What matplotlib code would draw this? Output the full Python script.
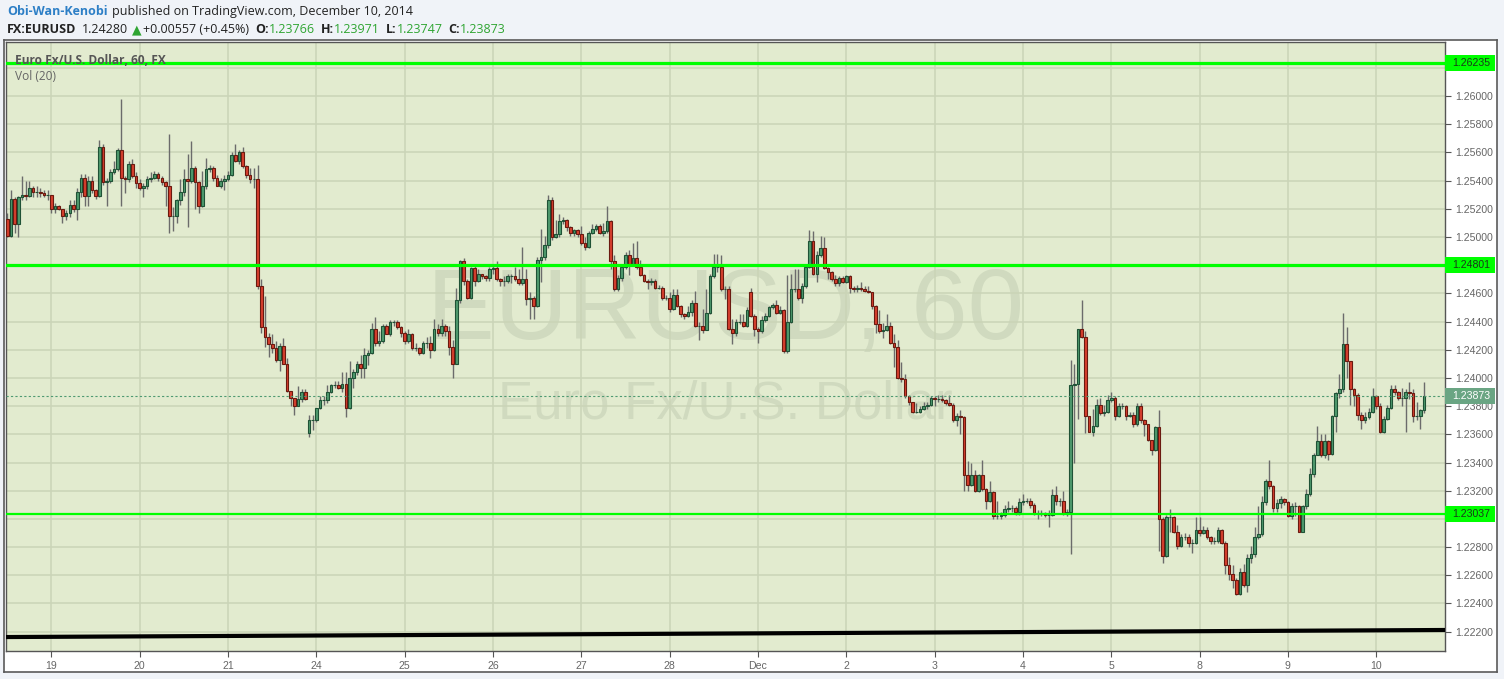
import numpy as np
import matplotlib
matplotlib.use('Agg')
import matplotlib.pyplot as plt
from matplotlib.patches import Rectangle
from matplotlib.transforms import IdentityTransform
from matplotlib.ticker import MultipleLocator, FuncFormatter

# hourly EURUSD candles (open = previous close unless listed in gap_opens)
first_open = 1.2513
gap_opens = {82: 1.2361, 202: 1.2461}

closes = [
    1.2501, 1.2527, 1.2509, 1.2528, 1.2530, 1.2529, 1.2535, 1.2532, 1.2532, 1.2531,
    1.2530, 1.2530, 1.2520, 1.2522, 1.2520, 1.2515, 1.2517, 1.2523, 1.2520, 1.2532,
    1.2542, 1.2529, 1.2540, 1.2533, 1.2529, 1.2564, 1.2539, 1.2540, 1.2546, 1.2548,
    1.2562, 1.2542, 1.2541, 1.2552, 1.2543, 1.2538, 1.2535, 1.2536, 1.2541, 1.2542,
    1.2545, 1.2542, 1.2539, 1.2536, 1.2515, 1.2515, 1.2526, 1.2532, 1.2541, 1.2540,
    1.2549, 1.2539, 1.2522, 1.2536, 1.2548, 1.2549, 1.2542, 1.2536, 1.2540, 1.2541,
    1.2544, 1.2558, 1.2554, 1.2560, 1.2550, 1.2544, 1.2541, 1.2541, 1.2465, 1.2436,
    1.2429, 1.2424, 1.2421, 1.2413, 1.2423, 1.2410, 1.2391, 1.2386, 1.2380, 1.2385,
    1.2390, 1.2385, 1.2370, 1.2370, 1.2379, 1.2384, 1.2384, 1.2390, 1.2395, 1.2395,
    1.2393, 1.2396, 1.2379, 1.2400, 1.2404, 1.2410, 1.2407, 1.2416, 1.2418, 1.2435,
    1.2425, 1.2426, 1.2437, 1.2431, 1.2440, 1.2440, 1.2436, 1.2432, 1.2426, 1.2431,
    1.2421, 1.2421, 1.2418, 1.2425, 1.2425, 1.2420, 1.2435, 1.2432, 1.2437, 1.2433,
    1.2422, 1.2410, 1.2455, 1.2483, 1.2469, 1.2457, 1.2478, 1.2469, 1.2474, 1.2472,
    1.2471, 1.2477, 1.2478, 1.2470, 1.2469, 1.2469, 1.2472, 1.2472, 1.2470, 1.2467,
    1.2470, 1.2456, 1.2457, 1.2451, 1.2484, 1.2486, 1.2494, 1.2526, 1.2500, 1.2502,
    1.2511, 1.2512, 1.2507, 1.2503, 1.2505, 1.2502, 1.2496, 1.2493, 1.2503, 1.2506,
    1.2508, 1.2503, 1.2504, 1.2511, 1.2483, 1.2463, 1.2471, 1.2479, 1.2487, 1.2481,
    1.2485, 1.2479, 1.2473, 1.2469, 1.2468, 1.2469, 1.2464, 1.2464, 1.2457, 1.2457,
    1.2449, 1.2459, 1.2451, 1.2445, 1.2444, 1.2447, 1.2453, 1.2437, 1.2437, 1.2434,
    1.2446, 1.2472, 1.2479, 1.2479, 1.2463, 1.2463, 1.2435, 1.2432, 1.2440, 1.2440,
    1.2437, 1.2448, 1.2444, 1.2435, 1.2433, 1.2441, 1.2444, 1.2450, 1.2452, 1.2446,
    1.2448, 1.2419, 1.2440, 1.2463, 1.2463, 1.2457, 1.2465, 1.2479, 1.2497, 1.2474,
    1.2487, 1.2492, 1.2478, 1.2475, 1.2470, 1.2467, 1.2471, 1.2468, 1.2472, 1.2464,
    1.2463, 1.2464, 1.2463, 1.2462, 1.2461, 1.2451, 1.2438, 1.2433, 1.2434, 1.2437,
    1.2425, 1.2422, 1.2400, 1.2399, 1.2387, 1.2383, 1.2376, 1.2376, 1.2378, 1.2380,
    1.2381, 1.2386, 1.2385, 1.2385, 1.2384, 1.2382, 1.2381, 1.2370, 1.2373, 1.2372,
    1.2331, 1.2324, 1.2331, 1.2320, 1.2331, 1.2321, 1.2313, 1.2319, 1.2302, 1.2302,
    1.2303, 1.2307, 1.2308, 1.2308, 1.2305, 1.2312, 1.2313, 1.2313, 1.2310, 1.2304,
    1.2304, 1.2304, 1.2303, 1.2303, 1.2317, 1.2313, 1.2313, 1.2304, 1.2305, 1.2395,
    1.2396, 1.2435, 1.2429, 1.2373, 1.2362, 1.2366, 1.2381, 1.2375, 1.2376, 1.2384,
    1.2386, 1.2373, 1.2380, 1.2380, 1.2373, 1.2374, 1.2367, 1.2380, 1.2370, 1.2367,
    1.2356, 1.2349, 1.2365, 1.2300, 1.2274, 1.2301, 1.2301, 1.2291, 1.2281, 1.2287,
    1.2287, 1.2283, 1.2283, 1.2292, 1.2290, 1.2292, 1.2287, 1.2284, 1.2284, 1.2292,
    1.2283, 1.2267, 1.2261, 1.2257, 1.2247, 1.2262, 1.2253, 1.2272, 1.2275, 1.2287,
    1.2289, 1.2312, 1.2327, 1.2323, 1.2308, 1.2311, 1.2314, 1.2312, 1.2302, 1.2309,
    1.2309, 1.2291, 1.2309, 1.2318, 1.2332, 1.2345, 1.2355, 1.2345, 1.2355, 1.2346,
    1.2373, 1.2389, 1.2392, 1.2424, 1.2412, 1.2392, 1.2388, 1.2374, 1.2370, 1.2372,
    1.2376, 1.2387, 1.2380, 1.2362, 1.2371, 1.2379, 1.2392, 1.2390, 1.2386, 1.2386,
    1.2390, 1.2389, 1.2373, 1.2373, 1.2377, 1.2387,
]
highs = [
    1.2517, 1.2533, 1.2528, 1.2529, 1.2543, 1.2540, 1.2540, 1.2536, 1.2536, 1.2535,
    1.2533, 1.2533, 1.2530, 1.2524, 1.2523, 1.2520, 1.2519, 1.2526, 1.2526, 1.2535,
    1.2545, 1.2545, 1.2543, 1.2543, 1.2534, 1.2569, 1.2566, 1.2542, 1.2548, 1.2554,
    1.2563, 1.2598, 1.2543, 1.2554, 1.2555, 1.2546, 1.2541, 1.2538, 1.2543, 1.2546,
    1.2547, 1.2546, 1.2543, 1.2540, 1.2573, 1.2521, 1.2527, 1.2541, 1.2548, 1.2559,
    1.2568, 1.2550, 1.2540, 1.2547, 1.2556, 1.2551, 1.2550, 1.2544, 1.2542, 1.2544,
    1.2547, 1.2560, 1.2566, 1.2562, 1.2564, 1.2551, 1.2549, 1.2549, 1.2551, 1.2470,
    1.2458, 1.2432, 1.2431, 1.2426, 1.2425, 1.2428, 1.2414, 1.2391, 1.2386, 1.2394,
    1.2392, 1.2392, 1.2374, 1.2374, 1.2379, 1.2387, 1.2387, 1.2395, 1.2396, 1.2398,
    1.2398, 1.2404, 1.2404, 1.2412, 1.2406, 1.2412, 1.2416, 1.2421, 1.2420, 1.2439,
    1.2443, 1.2433, 1.2438, 1.2438, 1.2441, 1.2441, 1.2441, 1.2437, 1.2433, 1.2435,
    1.2432, 1.2425, 1.2422, 1.2426, 1.2429, 1.2430, 1.2442, 1.2438, 1.2442, 1.2438,
    1.2437, 1.2427, 1.2464, 1.2484, 1.2485, 1.2470, 1.2479, 1.2481, 1.2477, 1.2474,
    1.2473, 1.2479, 1.2480, 1.2483, 1.2471, 1.2472, 1.2474, 1.2474, 1.2479, 1.2477,
    1.2493, 1.2477, 1.2461, 1.2458, 1.2486, 1.2506, 1.2501, 1.2530, 1.2528, 1.2512,
    1.2516, 1.2514, 1.2513, 1.2508, 1.2506, 1.2506, 1.2508, 1.2500, 1.2504, 1.2509,
    1.2509, 1.2509, 1.2510, 1.2522, 1.2512, 1.2487, 1.2473, 1.2481, 1.2489, 1.2491,
    1.2496, 1.2497, 1.2484, 1.2474, 1.2470, 1.2471, 1.2470, 1.2466, 1.2465, 1.2459,
    1.2461, 1.2463, 1.2463, 1.2452, 1.2446, 1.2451, 1.2455, 1.2462, 1.2440, 1.2449,
    1.2463, 1.2474, 1.2488, 1.2488, 1.2487, 1.2465, 1.2465, 1.2442, 1.2442, 1.2445,
    1.2445, 1.2450, 1.2464, 1.2445, 1.2436, 1.2444, 1.2446, 1.2451, 1.2453, 1.2455,
    1.2451, 1.2449, 1.2473, 1.2474, 1.2477, 1.2477, 1.2467, 1.2480, 1.2505, 1.2504,
    1.2490, 1.2501, 1.2500, 1.2479, 1.2476, 1.2473, 1.2472, 1.2472, 1.2473, 1.2473,
    1.2465, 1.2466, 1.2468, 1.2465, 1.2465, 1.2461, 1.2452, 1.2448, 1.2439, 1.2445,
    1.2440, 1.2431, 1.2427, 1.2411, 1.2403, 1.2388, 1.2383, 1.2382, 1.2380, 1.2383,
    1.2383, 1.2387, 1.2387, 1.2388, 1.2388, 1.2385, 1.2388, 1.2382, 1.2375, 1.2377,
    1.2373, 1.2341, 1.2340, 1.2335, 1.2332, 1.2342, 1.2322, 1.2327, 1.2320, 1.2313,
    1.2305, 1.2310, 1.2313, 1.2310, 1.2309, 1.2315, 1.2318, 1.2315, 1.2315, 1.2311,
    1.2306, 1.2306, 1.2305, 1.2306, 1.2321, 1.2323, 1.2315, 1.2320, 1.2307, 1.2413,
    1.2410, 1.2435, 1.2455, 1.2433, 1.2373, 1.2378, 1.2385, 1.2386, 1.2381, 1.2388,
    1.2390, 1.2387, 1.2382, 1.2382, 1.2381, 1.2376, 1.2376, 1.2382, 1.2382, 1.2371,
    1.2367, 1.2356, 1.2366, 1.2377, 1.2301, 1.2303, 1.2307, 1.2302, 1.2296, 1.2289,
    1.2290, 1.2289, 1.2286, 1.2301, 1.2301, 1.2295, 1.2294, 1.2288, 1.2287, 1.2294,
    1.2293, 1.2284, 1.2273, 1.2267, 1.2258, 1.2265, 1.2268, 1.2275, 1.2281, 1.2294,
    1.2309, 1.2316, 1.2328, 1.2342, 1.2324, 1.2314, 1.2316, 1.2315, 1.2313, 1.2311,
    1.2312, 1.2310, 1.2310, 1.2321, 1.2336, 1.2347, 1.2366, 1.2360, 1.2360, 1.2356,
    1.2374, 1.2390, 1.2403, 1.2446, 1.2436, 1.2412, 1.2393, 1.2389, 1.2376, 1.2376,
    1.2379, 1.2393, 1.2388, 1.2382, 1.2373, 1.2381, 1.2395, 1.2395, 1.2391, 1.2393,
    1.2392, 1.2397, 1.2392, 1.2383, 1.2378, 1.2397,
]
lows = [
    1.2500, 1.2500, 1.2503, 1.2500, 1.2526, 1.2526, 1.2528, 1.2528, 1.2528, 1.2528,
    1.2528, 1.2526, 1.2517, 1.2517, 1.2519, 1.2510, 1.2512, 1.2514, 1.2518, 1.2512,
    1.2528, 1.2522, 1.2522, 1.2531, 1.2527, 1.2528, 1.2537, 1.2522, 1.2538, 1.2545,
    1.2547, 1.2522, 1.2531, 1.2539, 1.2542, 1.2535, 1.2533, 1.2528, 1.2534, 1.2539,
    1.2541, 1.2540, 1.2537, 1.2522, 1.2503, 1.2504, 1.2510, 1.2523, 1.2529, 1.2507,
    1.2538, 1.2520, 1.2517, 1.2521, 1.2534, 1.2546, 1.2540, 1.2536, 1.2535, 1.2533,
    1.2540, 1.2543, 1.2553, 1.2552, 1.2549, 1.2542, 1.2538, 1.2535, 1.2463, 1.2432,
    1.2422, 1.2415, 1.2418, 1.2411, 1.2405, 1.2410, 1.2390, 1.2380, 1.2374, 1.2380,
    1.2383, 1.2384, 1.2358, 1.2363, 1.2369, 1.2378, 1.2381, 1.2382, 1.2389, 1.2393,
    1.2392, 1.2390, 1.2372, 1.2378, 1.2393, 1.2402, 1.2400, 1.2400, 1.2409, 1.2417,
    1.2423, 1.2423, 1.2425, 1.2431, 1.2430, 1.2437, 1.2435, 1.2429, 1.2424, 1.2425,
    1.2420, 1.2419, 1.2416, 1.2417, 1.2421, 1.2414, 1.2419, 1.2430, 1.2430, 1.2430,
    1.2416, 1.2400, 1.2410, 1.2453, 1.2466, 1.2456, 1.2456, 1.2465, 1.2468, 1.2470,
    1.2469, 1.2469, 1.2474, 1.2469, 1.2465, 1.2465, 1.2467, 1.2467, 1.2469, 1.2466,
    1.2466, 1.2452, 1.2442, 1.2442, 1.2450, 1.2468, 1.2484, 1.2492, 1.2498, 1.2499,
    1.2500, 1.2509, 1.2504, 1.2501, 1.2501, 1.2500, 1.2494, 1.2491, 1.2492, 1.2502,
    1.2504, 1.2502, 1.2501, 1.2503, 1.2477, 1.2462, 1.2462, 1.2469, 1.2477, 1.2473,
    1.2480, 1.2477, 1.2472, 1.2468, 1.2463, 1.2466, 1.2463, 1.2463, 1.2455, 1.2455,
    1.2447, 1.2448, 1.2450, 1.2443, 1.2442, 1.2443, 1.2444, 1.2436, 1.2427, 1.2432,
    1.2434, 1.2445, 1.2471, 1.2475, 1.2462, 1.2456, 1.2434, 1.2424, 1.2430, 1.2438,
    1.2436, 1.2436, 1.2443, 1.2430, 1.2425, 1.2432, 1.2440, 1.2443, 1.2449, 1.2445,
    1.2445, 1.2418, 1.2418, 1.2439, 1.2461, 1.2455, 1.2453, 1.2464, 1.2478, 1.2473,
    1.2468, 1.2486, 1.2477, 1.2470, 1.2469, 1.2465, 1.2465, 1.2467, 1.2467, 1.2460,
    1.2461, 1.2461, 1.2462, 1.2461, 1.2460, 1.2449, 1.2432, 1.2432, 1.2428, 1.2433,
    1.2424, 1.2408, 1.2399, 1.2397, 1.2386, 1.2381, 1.2375, 1.2375, 1.2375, 1.2377,
    1.2378, 1.2380, 1.2380, 1.2383, 1.2383, 1.2381, 1.2380, 1.2369, 1.2366, 1.2360,
    1.2320, 1.2320, 1.2323, 1.2319, 1.2319, 1.2320, 1.2307, 1.2312, 1.2300, 1.2300,
    1.2300, 1.2301, 1.2305, 1.2305, 1.2303, 1.2303, 1.2310, 1.2311, 1.2308, 1.2303,
    1.2300, 1.2302, 1.2301, 1.2294, 1.2302, 1.2310, 1.2309, 1.2303, 1.2302, 1.2275,
    1.2340, 1.2371, 1.2428, 1.2361, 1.2362, 1.2359, 1.2365, 1.2374, 1.2373, 1.2375,
    1.2383, 1.2370, 1.2372, 1.2378, 1.2370, 1.2372, 1.2365, 1.2366, 1.2368, 1.2359,
    1.2355, 1.2345, 1.2348, 1.2277, 1.2269, 1.2273, 1.2291, 1.2290, 1.2279, 1.2280,
    1.2285, 1.2280, 1.2276, 1.2282, 1.2288, 1.2289, 1.2286, 1.2282, 1.2282, 1.2283,
    1.2282, 1.2261, 1.2257, 1.2251, 1.2246, 1.2246, 1.2252, 1.2248, 1.2269, 1.2273,
    1.2286, 1.2288, 1.2310, 1.2321, 1.2305, 1.2305, 1.2308, 1.2310, 1.2301, 1.2300,
    1.2302, 1.2291, 1.2291, 1.2307, 1.2316, 1.2330, 1.2345, 1.2344, 1.2343, 1.2342,
    1.2345, 1.2362, 1.2386, 1.2390, 1.2400, 1.2381, 1.2380, 1.2370, 1.2364, 1.2368,
    1.2371, 1.2375, 1.2378, 1.2361, 1.2361, 1.2370, 1.2378, 1.2388, 1.2384, 1.2380,
    1.2362, 1.2385, 1.2369, 1.2370, 1.2364, 1.2375,
]

day_labels = ['19', '20', '21', '24', '25', '26', '27', '28', 'Dec', '2', '3', '4', '5', '8', '9', '10']
levels = [1.26235, 1.24801, 1.23037]
level_widths = [2.3, 2.3, 1.6]
trend_start, trend_end = 1.22162, 1.22212
last_price = 1.23873

opens = [first_open] + closes[:-1]
for k, v in gap_opens.items():
    opens[k] = v
x = np.arange(len(closes))
o = np.array(opens)
c = np.array(closes)
up = c >= o

BG = '#f0f3f8'
PLOT_BG = '#e2ebcf'
GRID = '#cad4b7'
YMIN, YMAX = 1.22063, 1.26383

fig = plt.figure(figsize=(15.04, 6.79), dpi=100, facecolor=BG)
W, H = 1504, 679

# white panel behind the chart
panel = fig.add_axes([4 / W, 1 - 672 / H, 1493 / W, 632 / H], zorder=-5)
panel.set_xticks([])
panel.set_yticks([])
panel.set_facecolor('white')
for s in panel.spines.values():
    s.set_color('#5a5a5a')
    s.set_linewidth(1.2)

ax = fig.add_axes([6 / W, 1 - 651 / H, 1439 / W, 609 / H])
ax.set_facecolor(PLOT_BG)
ax.set_xlim(-0.35, 390.7)
ax.set_ylim(YMIN, YMAX)


def price_fmt(v, pos):
    # labels hidden under the level boxes are left out
    for lv in levels:
        if abs(v - lv) < 0.0005:
            return ''
    return '%.5f' % v


ax.yaxis.set_major_locator(MultipleLocator(0.002))
ax.yaxis.set_major_formatter(FuncFormatter(price_fmt))
ax.yaxis.tick_right()
ticks = [12 + 24 * i for i in range(len(day_labels))]
ax.set_xticks(ticks)
ax.set_xticklabels(day_labels)
ax.tick_params(axis='both', colors='#555555', labelcolor='#666666', labelsize=7.6, length=4, width=0.8)
for lab in ax.get_xticklabels() + ax.get_yticklabels():
    lab.set_family('Liberation Sans')
ax.grid(True, color=GRID, linewidth=1.1)
ax.set_axisbelow(True)
for s in ax.spines.values():
    s.set_color('#555555')
    s.set_linewidth(1)

# watermark
ax.text(0.5, 0.555, 'EURUSD, 60', transform=ax.transAxes, ha='center', va='center',
        fontsize=73, color='#d0dabf', family='Liberation Sans', zorder=0.5)
ax.text(0.5, 0.405, 'Euro Fx/U.S. Dollar', transform=ax.transAxes, ha='center', va='center',
        fontsize=38, color='#d0dabf', family='Liberation Sans', zorder=0.5)

# candles
ax.vlines(x, lows, highs, color='#6b6b6b', linewidth=1, zorder=2)
bottom = np.minimum(o, c)
height = np.abs(c - o)
ax.bar(x[up], height[up], bottom=bottom[up], width=0.72, color='#4f9a6e', edgecolor='#1f5236',
       linewidth=0.8, zorder=3)
ax.bar(x[~up], height[~up], bottom=bottom[~up], width=0.72, color='#d8402e', edgecolor='#6a1a10',
       linewidth=0.8, zorder=3)

# support / resistance levels and trend line
for lv, lw in zip(levels, level_widths):
    ax.axhline(lv, color='#00ff00', linewidth=lw, zorder=4)
ax.plot([-0.35, 390.7], [trend_start, trend_end], color='black', linewidth=3, zorder=4)
ax.axhline(last_price, color='#4f9a72', linewidth=0.8, linestyle=(0, (2, 2)), zorder=4)

# price boxes on the right scale
yt = ax.get_yaxis_transform()
box_h = 16 / (609 / (YMAX - YMIN))
for lv in levels:
    ax.add_patch(Rectangle((1.0, lv - box_h / 2), 50 / 1439, box_h, transform=yt, clip_on=False,
                           facecolor='#00ff00', edgecolor='none', zorder=5))
    ax.text(1.0 + 7 / 1439, lv, '%.5f' % lv, transform=yt, va='center', ha='left', fontsize=7.6,
            color='#1a3a1a', family='Liberation Sans', zorder=6, clip_on=False)
ax.add_patch(Rectangle((1.0, last_price - box_h / 2), 50 / 1439, box_h, transform=yt, clip_on=False,
                       facecolor='#6aa583', edgecolor='none', zorder=5))
ax.text(1.0 + 7 / 1439, last_price, '%.5f' % last_price, transform=yt, va='center', ha='left',
        fontsize=7.6, color='white', family='Liberation Sans', zorder=6, clip_on=False)

# legend text inside the pane
ax.text(9 / 1439, 1 - 18 / 609, 'Euro Fx/U.S. Dollar, 60, FX', transform=ax.transAxes, va='center',
        fontsize=8.6, color='#555555', fontweight='bold', family='Open Sans', zorder=6)
ax.text(9 / 1439, 1 - 35 / 609, 'Vol (20)', transform=ax.transAxes, va='center',
        fontsize=8.6, color='#666666', family='Open Sans', zorder=6)

# header lines, drawn piece by piece
fig.canvas.draw()
renderer = fig.canvas.get_renderer()


def header(x0, ytop, pieces):
    xp = x0
    for text, color, weight, gap in pieces:
        t = fig.text(xp, H - ytop, text, transform=IdentityTransform(), va='center', ha='left',
                     fontsize=9.0, color=color, fontweight=weight, family=['Open Sans', 'DejaVu Sans'])
        xp += t.get_window_extent(renderer).width + gap


GREEN = '#2fa532'
header(7, 11.5, [('Obi-Wan-Kenobi', '#2d7fc6', 'bold', 4),
                 ('published on TradingView.com, December 10, 2014', '#222222', 'normal', 0)])
header(7, 29.5, [('FX:EURUSD', '#222222', 'bold', 6),
                 ('1.24280', '#222222', 'normal', 3),
                 ('\u25b2', GREEN, 'normal', 2),
                 ('+0.00557 (+0.45%)', '#222222', 'normal', 6),
                 ('O:', '#222222', 'bold', 0), ('1.23766', GREEN, 'normal', 6),
                 ('H:', '#222222', 'bold', 0), ('1.23971', GREEN, 'normal', 6),
                 ('L:', '#222222', 'bold', 0), ('1.23747', GREEN, 'normal', 6),
                 ('C:', '#222222', 'bold', 0), ('1.23873', GREEN, 'normal', 0)])

fig.savefig('out.png', dpi=100, facecolor=BG)
